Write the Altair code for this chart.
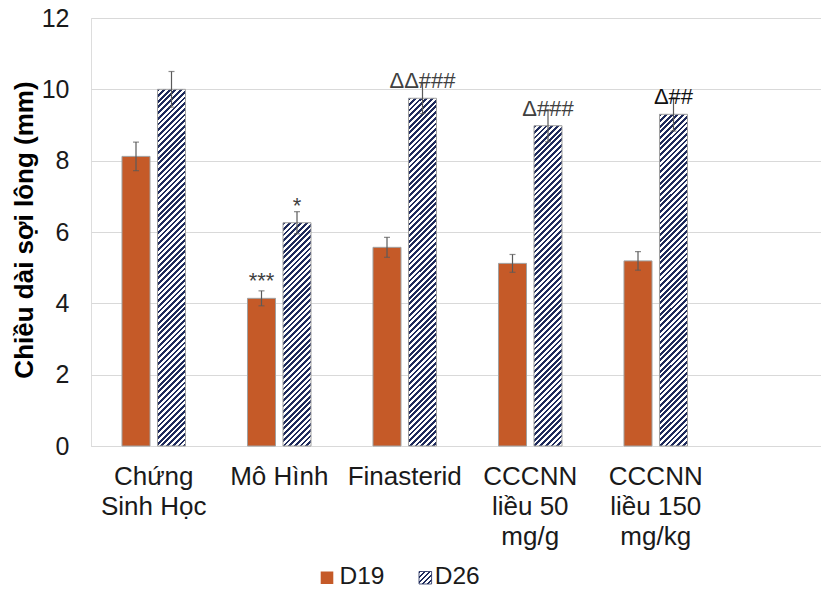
import altair as alt
import pandas as pd

# ---------------- data ----------------
categories = ["Chứng\nSinh Học", "Mô Hình", "Finasterid", "CCCNN\nliều 50\nmg/g", "CCCNN\nliều 150\nmg/kg"]
series = ["D19", "D26"]
d19_values = [8.12, 4.14, 5.57, 5.12, 5.19]
d19_errors = [0.40, 0.21, 0.28, 0.25, 0.26]
d26_values = [10.0, 6.26, 9.75, 8.98, 9.30]
d26_errors = [0.50, 0.31, 0.43, 0.45, 0.47]
d19_notes = ["", "***", "", "", ""]
d26_notes = ["", "*", "ΔΔ###", "Δ###", "Δ##"]
y_ticks = [0, 2, 4, 6, 8, 10, 12]
y_title = "Chiều dài sợi lông (mm)"

# ---------------- style ----------------
FONT = "Liberation Sans"
ORANGE = "#C55A28"
NAVY = "#1F2B5C"
BAR_STROKE = "#A0A0A0"
ERR_COLOR = "#5A5A5A"
PW, PH = 730, 428
YMAX = 12.0
PX_PER_UNIT = PH / YMAX
BAR_W = 28.0
HATCH_PERIOD = 5.7

rows = []
for i, c in enumerate(categories):
    rows.append(dict(cat=c, series="D19", value=d19_values[i], err=d19_errors[i], note=d19_notes[i]))
    rows.append(dict(cat=c, series="D26", value=d26_values[i], err=d26_errors[i], note=d26_notes[i]))
df = pd.DataFrame(rows)
df["lo"] = df["value"] - df["err"]
df["hi"] = df["value"] + df["err"]


def hatch(w, h, period=HATCH_PERIOD, duty=0.5):
    """Diagonal '/' stripe gradient in the bar's bounding box."""
    L = w + h
    c = L / (w * w + h * h)
    a, b = c * w, c * h
    stops = []
    k = 0
    while k * period < L:
        t0 = k * period / L
        t1 = min(1.0, (k * period + duty * period) / L)
        t2 = min(1.0, (k + 1) * period / L)
        stops += [
            alt.GradientStop(offset=t0, color=NAVY),
            alt.GradientStop(offset=t1, color=NAVY),
            alt.GradientStop(offset=t1, color="white"),
            alt.GradientStop(offset=t2, color="white"),
        ]
        k += 1
    return alt.LinearGradient(gradient="linear", stops=stops, x1=0, y1=0, x2=a, y2=b)


step = 125.5
n = len(categories)
p_outer = (PW / step - n) / 2

x_enc = alt.X(
    "cat:N",
    sort=categories,
    scale=alt.Scale(domain=categories, paddingInner=0, paddingOuter=p_outer, align=0),
    axis=alt.Axis(
        title=None,
        labelAngle=0,
        labelExpr="split(datum.label, '\\n')",
        labelFontSize=26,
        labelLineHeight=30,
        labelPadding=17,
        labelColor="#1A1A1A",
        labelFont=FONT,
        ticks=False,
        domain=True,
        domainColor="#D9D9D9",
        grid=False,
    ),
)
xo_enc = alt.XOffset("series:N", scale=alt.Scale(domain=series, paddingInner=0.211, paddingOuter=0.873))
y_enc = alt.Y(
    "value:Q",
    scale=alt.Scale(domain=[0, YMAX], nice=False),
    axis=alt.Axis(
        values=y_ticks,
        title=y_title,
        titleFont=FONT,
        titleFontSize=26,
        titleFontWeight="bold",
        titleColor="#000000",
        titleAngle=-90,
        titleX=-67,
        titleY=PH / 2 - 2.5,
        titleAlign="center",
        titleBaseline="middle",
        labelFontSize=25,
        labelFont=FONT,
        labelColor="#1A1A1A",
        labelPadding=22,
        ticks=False,
        tickSize=0,
        domain=False,
        grid=True,
        gridColor="#D9D9D9",
        gridWidth=1,
    ),
)

base = alt.Chart(df).encode(x=x_enc, xOffset=xo_enc)

layers = []
layers.append(
    base.transform_filter(alt.datum.series == "D19")
    .mark_bar(color=ORANGE, stroke=BAR_STROKE, strokeWidth=1)
    .encode(y=y_enc)
)
for i, c in enumerate(categories):
    h = d26_values[i] * PX_PER_UNIT
    layers.append(
        base.transform_filter((alt.datum.series == "D26") & (alt.datum.cat == c))
        .mark_bar(color=hatch(BAR_W, h), stroke=BAR_STROKE, strokeWidth=1)
        .encode(y=alt.Y("value:Q"))
    )

layers.append(base.mark_rule(color=ERR_COLOR, strokeWidth=1.2).encode(y="lo:Q", y2="hi:Q"))
layers.append(base.mark_tick(color=ERR_COLOR, thickness=1.2, size=6).encode(y="lo:Q"))
layers.append(base.mark_tick(color=ERR_COLOR, thickness=1.2, size=6).encode(y="hi:Q"))
layers.append(
    base.transform_filter(alt.datum.note != "")
    .mark_text(dy=-10, baseline="alphabetic", fontSize=22, font=FONT)
    .encode(
        y="value:Q",
        text="note:N",
        color=alt.condition(alt.datum.note == "Δ##", alt.value("#111111"), alt.value("#404040")),
    )
)

# legend drawn with marks
leg_d19 = pd.DataFrame({"name": [series[0]]})
leg_d26 = pd.DataFrame({"name": [series[1]]})
LEG_TOP, LEG_BOT = 553.5, 566
layers.append(
    alt.Chart(leg_d19).mark_rect(color=ORANGE).encode(
        x=alt.value(229.7), x2=alt.value(242.3), y=alt.value(LEG_TOP), y2=alt.value(LEG_BOT)
    )
)
layers.append(
    alt.Chart(leg_d19).mark_text(align="left", baseline="alphabetic", fontSize=24.5, font=FONT, color="#1A1A1A").encode(
        x=alt.value(248.5), y=alt.value(LEG_BOT - 0.3), text="name:N"
    )
)
layers.append(
    alt.Chart(leg_d26).mark_rect(color=hatch(12.6, 12.6, period=5.0), stroke=NAVY, strokeWidth=0.8).encode(
        x=alt.value(328), x2=alt.value(340.6), y=alt.value(LEG_TOP), y2=alt.value(LEG_BOT)
    )
)
layers.append(
    alt.Chart(leg_d26).mark_text(align="left", baseline="alphabetic", fontSize=24.5, font=FONT, color="#1A1A1A").encode(
        x=alt.value(343.7), y=alt.value(LEG_BOT - 0.3), text="name:N"
    )
)

chart = (
    alt.layer(*layers)
    .properties(
        width=PW,
        height=PH,
        autosize=alt.AutoSizeParams(type="none"),
        padding={"left": 83, "top": 10, "right": 0, "bottom": 142},
    )
    .configure_view(stroke=None)
    .configure(font=FONT)
)

chart.save("out.html", embed_options={"renderer": "svg", "actions": False})
